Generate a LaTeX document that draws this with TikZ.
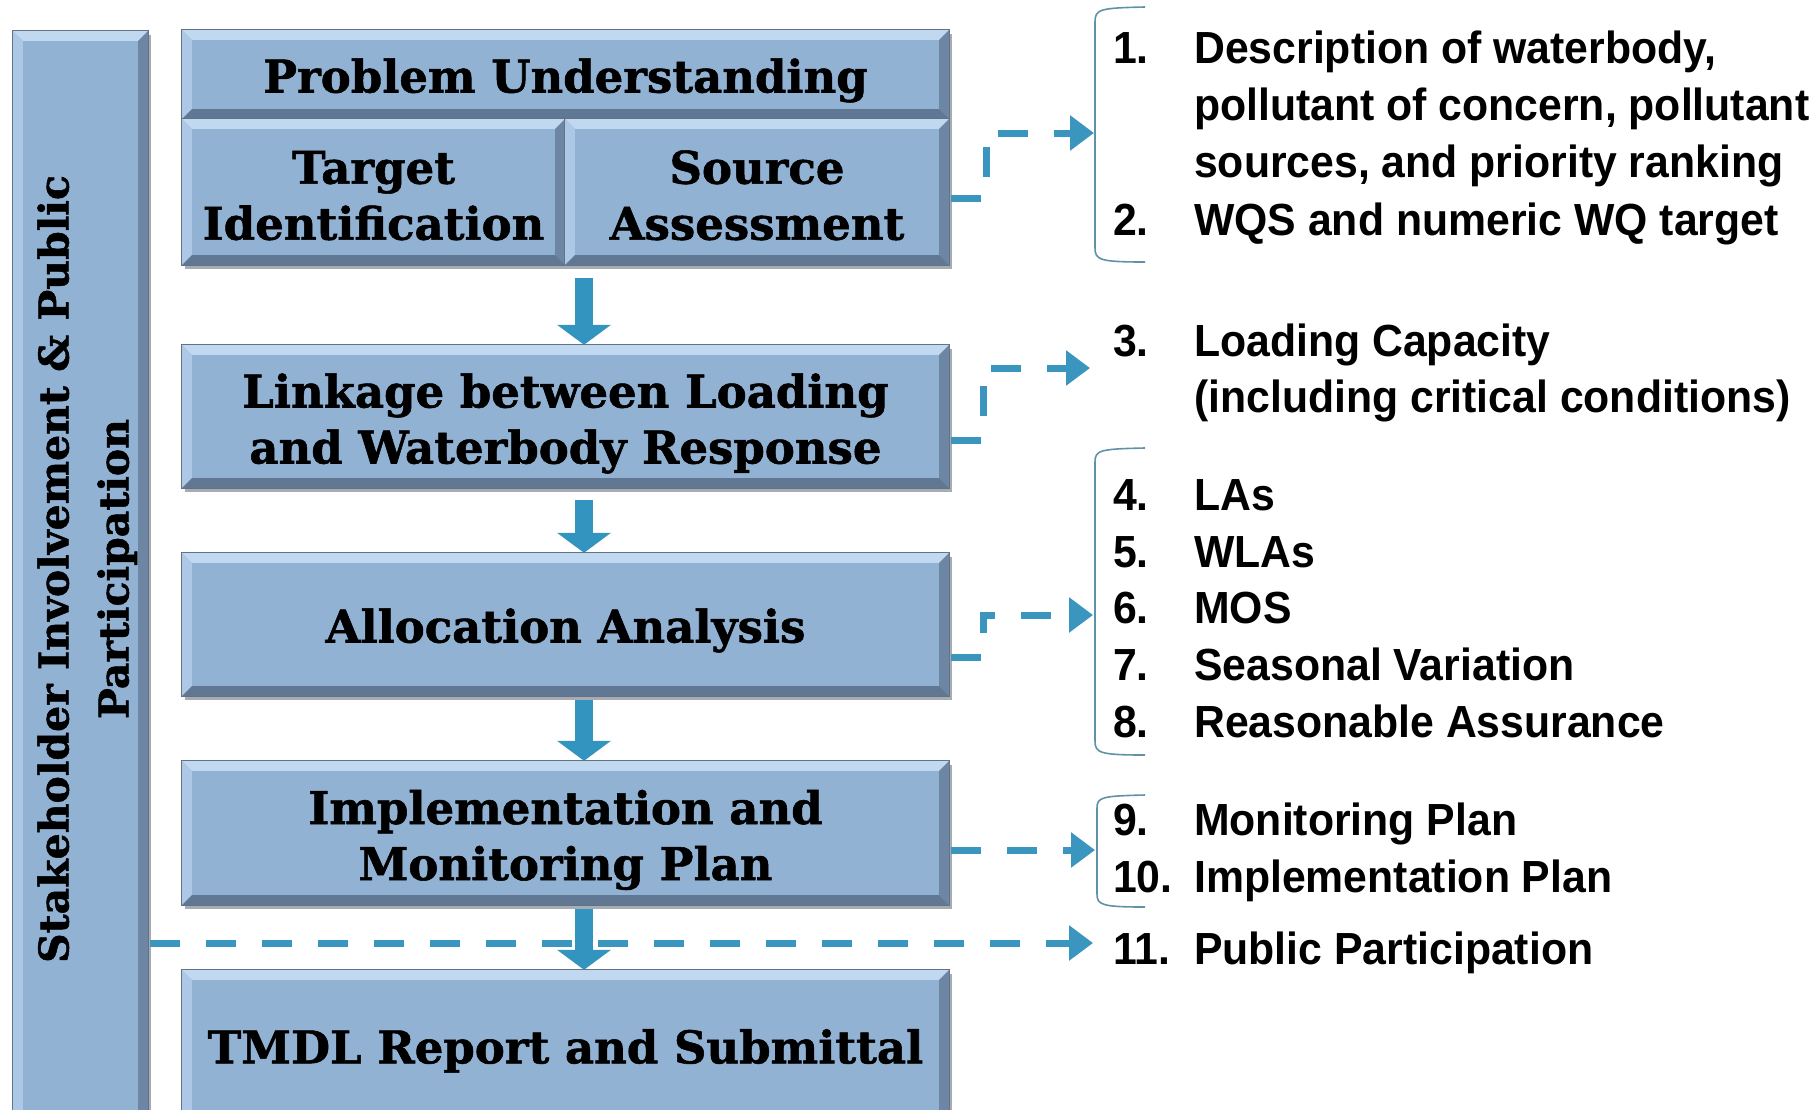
\documentclass[tikz,border=0pt]{standalone}
\usepackage{fontspec}
\setmainfont{Liberation Sans}
\newfontfamily\boxfont{DejaVu Serif}[BoldFeatures={FakeBold=1.2}]
\newfontfamily\listfont{Liberation Sans}[FakeStretch=0.95]
\usetikzlibrary{arrows.meta,calc,backgrounds}
\definecolor{boxfill}{RGB}{146,178,212}
\definecolor{bevlight}{RGB}{192,216,240}
\definecolor{bevleft}{RGB}{172,200,230}
\definecolor{bevright}{RGB}{108,134,164}
\definecolor{bevbot}{RGB}{96,120,148}
\definecolor{boxline}{RGB}{100,114,130}
\definecolor{shadowc}{RGB}{165,172,180}
\definecolor{arrowblue}{RGB}{52,148,192}
\definecolor{dashblue}{RGB}{58,150,190}
\definecolor{brk}{RGB}{96,146,166}
\newcommand{\hiline}{\rule{0pt}{48pt}}
\newcommand{\midline}{\rule{0pt}{40pt}}
\tikzset{
  stepbox/.style={rectangle, fill=boxfill, inner sep=0pt, align=center,
    font=\boxfont\bfseries\fontsize{45}{56}\selectfont},
  lowtext/.style={execute at begin node={\rule{0pt}{46pt}}},
  bigarrow/.style={draw=arrowblue, line width=18pt,
    -{Triangle[width=53pt,length=20pt]}},
  dashconn/.style={draw=dashblue, line width=7pt, dash pattern=on 30pt off 26pt,
    -{Triangle[width=34pt,length=24pt]}},
  brace/.style={draw=brk, line width=1.6pt},
  lnum/.style={anchor=base west, inner sep=0pt, font=\listfont\bfseries\fontsize{45}{57}\selectfont},
  ltxt/.style={anchor=base west, inner sep=0pt, font=\listfont\bfseries\fontsize{45}{57}\selectfont},
}
\begin{document}
\begin{tikzpicture}[x=1pt,y=-1pt]
\useasboundingbox (0,0) rectangle (1814,1109);
\begin{scope}
\clip (0,0) rectangle (1814,1109);
% boxes
\node[stepbox, minimum width=135pt, minimum height=1098pt,
  font=\boxfont\bfseries\fontsize{41}{60}\selectfont] (sh) at (80.5,580)
  {\hspace{12pt}\rotatebox{90}{\hspace{22pt}\begin{tabular}{@{}c@{}}Stakeholder Involvement \& Public\\Participation\end{tabular}}};
\node[stepbox, lowtext, minimum width=767pt, minimum height=89pt] (pu) at (565.5,74.5) {Problem Understanding};
\node[stepbox, minimum width=383pt, minimum height=146pt] (ti) at (373.5,192) {\midline Target\\Identification};
\node[stepbox, minimum width=384pt, minimum height=146pt] (sa) at (757,192) {\midline Source\\Assessment};
\node[stepbox, minimum width=767pt, minimum height=143pt] (lk) at (565.5,416.5) {\hiline Linkage between Loading\\and Waterbody Response};
\node[stepbox, lowtext, minimum width=767pt, minimum height=143pt] (aa) at (565.5,624.5) {Allocation Analysis};
\node[stepbox, minimum width=767pt, minimum height=144pt] (im) at (565.5,833) {\hiline Implementation and\\Monitoring Plan};
\node[stepbox, lowtext, minimum width=767pt, minimum height=150pt] (tm) at (565.5,1045) {TMDL Report and Submittal};
% shadows
\begin{scope}[on background layer]
\foreach \n in {sh,pu,ti,sa,lk,aa,im,tm}
  \fill[shadowc] ($(\n.north west)+(3,4)$) rectangle ($(\n.south east)+(3,4)$);
\end{scope}
% bevels
\foreach \n in {sh,pu,ti,sa,lk,aa,im,tm}{
  \fill[bevlight] (\n.north west) -- (\n.north east) -- ($(\n.north east)+(-10,10)$) -- ($(\n.north west)+(10,10)$) -- cycle;
  \fill[bevleft] (\n.north west) -- ($(\n.north west)+(10,10)$) -- ($(\n.south west)+(10,-10)$) -- (\n.south west) -- cycle;
  \fill[bevright] (\n.north east) -- (\n.south east) -- ($(\n.south east)+(-10,-10)$) -- ($(\n.north east)+(-10,10)$) -- cycle;
  \fill[bevbot] (\n.south west) -- (\n.south east) -- ($(\n.south east)+(-10,-10)$) -- ($(\n.south west)+(10,-10)$) -- cycle;
  \draw[boxline, line width=1.2pt] (\n.north west) rectangle (\n.south east);
}
% dashed connectors
\coordinate (b1) at (1094,133);
\coordinate (b3) at (1090,368);
\coordinate (b6) at (1093,615);
\coordinate (b9) at (1095,850);
\coordinate (b11) at (1093,943);
\draw[dashconn] ($(sa.east)+(2,6)$) -- ++(35,0) |- (b1);
\draw[dashconn] ($(lk.east)+(2,23.5)$) -- ++(32,0) |- (b3);
\draw[dashconn] ($(aa.east)+(2,32.5)$) -- ++(32,0) |- (b6);
\draw[dashconn] ($(im.east |- b9)+(2,0)$) -- (b9);
\draw[dashconn] ($(sh.east |- b11)+(2,0)$) -- (b11);
% block arrows
\coordinate (ax) at (584,0);
\draw[bigarrow, shorten <=13pt] (ti.south -| ax) -- (lk.north -| ax);
\draw[bigarrow, shorten <=12pt] (lk.south -| ax) -- (aa.north -| ax);
\draw[bigarrow, shorten <=4pt] (aa.south -| ax) -- (im.north -| ax);
\draw[bigarrow, shorten <=4pt] (im.south -| ax) -- (tm.north -| ax);
% brackets
\draw[brace] (1145,7) .. controls (1100,8) and (1095,9) .. (1095,22) -- (1095,248) .. controls (1095,260) and (1100,262) .. (1145,262);
\draw[brace] (1145,448) .. controls (1100,449) and (1095,450) .. (1095,462) -- (1095,741) .. controls (1095,753) and (1100,755) .. (1145,755);
\draw[brace] (1145,795) .. controls (1102,796) and (1097,797) .. (1097,808) -- (1097,894) .. controls (1097,905) and (1102,907) .. (1145,907);
% list
\node[lnum] (n1) at (1113,63) {1.};
\node[ltxt] (t1a) at (1194,63) {Description of waterbody,};
\node[ltxt] (t1b) at (1194,120) {pollutant of concern, pollutant};
\node[ltxt] (t1c) at (1194,177) {sources, and priority ranking};
\node[lnum] (n2) at (1113,235) {2.};
\node[ltxt] (t2) at (1194,235) {WQS and numeric WQ target};
\node[lnum] (n3) at (1113,356) {3.};
\node[ltxt] (t3a) at (1194,356) {Loading Capacity};
\node[ltxt] (t3b) at (1194,412) {(including critical conditions)};
\node[lnum] (n4) at (1113,510) {4.};
\node[ltxt] (t4) at (1194,510) {LAs};
\node[lnum] (n5) at (1113,567) {5.};
\node[ltxt] (t5) at (1194,567) {WLAs};
\node[lnum] (n6) at (1113,623) {6.};
\node[ltxt] (t6) at (1194,623) {MOS};
\node[lnum] (n7) at (1113,680) {7.};
\node[ltxt] (t7) at (1194,680) {Seasonal Variation};
\node[lnum] (n8) at (1113,737) {8.};
\node[ltxt] (t8) at (1194,737) {Reasonable Assurance};
\node[lnum] (n9) at (1113,835) {9.};
\node[ltxt] (t9) at (1194,835) {Monitoring Plan};
\node[lnum] (n10) at (1113,892) {10.};
\node[ltxt] (t10) at (1194,892) {Implementation Plan};
\node[lnum] (n11) at (1113,964) {11.};
\node[ltxt] (t11) at (1194,964) {Public Participation};
\end{scope}
\end{tikzpicture}
\end{document}
